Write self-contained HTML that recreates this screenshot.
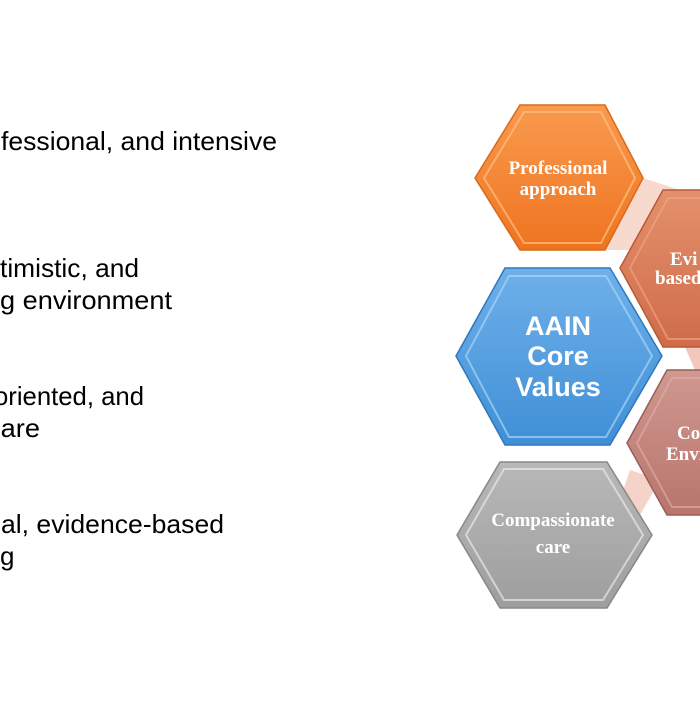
<!DOCTYPE html>
<html><head><meta charset="utf-8"><style>
html,body{margin:0;padding:0;background:#fff;width:700px;height:720px;overflow:hidden}
</style></head><body>
<svg width="700" height="720" viewBox="0 0 700 720" xmlns="http://www.w3.org/2000/svg">
<defs>
<linearGradient id="go" x1="0" y1="0" x2="0" y2="1"><stop offset="0" stop-color="#f99a4f"/><stop offset="1" stop-color="#ef7420"/></linearGradient>
<linearGradient id="gb" x1="0" y1="0" x2="0" y2="1"><stop offset="0" stop-color="#6fb0ea"/><stop offset="1" stop-color="#3f8fd6"/></linearGradient>
<linearGradient id="gg" x1="0" y1="0" x2="0" y2="1"><stop offset="0" stop-color="#b8b8b8"/><stop offset="1" stop-color="#9e9e9e"/></linearGradient>
<linearGradient id="ge" x1="0" y1="0" x2="0" y2="1"><stop offset="0" stop-color="#e4906c"/><stop offset="1" stop-color="#cf6c4a"/></linearGradient>
<linearGradient id="gr" x1="0" y1="0" x2="0" y2="1"><stop offset="0" stop-color="#cf9890"/><stop offset="1" stop-color="#b8756c"/></linearGradient>
</defs>
<g font-family="Liberation Sans, Arial, sans-serif" font-size="26" fill="#000">
<text x="1" y="150" textLength="276" lengthAdjust="spacingAndGlyphs">fessional, and intensive</text>
<text x="0" y="277" textLength="139" lengthAdjust="spacingAndGlyphs">timistic, and</text>
<text x="0" y="309" textLength="172" lengthAdjust="spacingAndGlyphs">g environment</text>
<text x="-6" y="405" textLength="150" lengthAdjust="spacingAndGlyphs">oriented, and</text>
<text x="-13" y="437" textLength="53" lengthAdjust="spacingAndGlyphs">care</text>
<text x="1" y="533" textLength="223" lengthAdjust="spacingAndGlyphs">al, evidence-based</text>
<text x="0" y="565">g</text>
</g>
<polygon points="605,250 643,178 680,190 645,250" fill="#f6cfc0" opacity="0.8"/>
<polygon points="685,347 700,347 700,370 695,370" fill="#f1c6bd"/>
<polygon points="608,535 630,470 660,480 640,515" fill="#f3cbbf" opacity="0.85"/>
<polygon points="663,190 740,190 780,268 740,347 663,347 620,268" fill="url(#ge)" stroke="#b65a3a" stroke-width="1.5"/>
<polygon points="668,198 740,198 772,268 740,339 668,339 630,268" fill="none" stroke="#f0a888" stroke-width="2" opacity="0.6"/>
<polygon points="667,370 740,370 780,443 740,515 667,515 627,443" fill="url(#gr)" stroke="#9a5e58" stroke-width="1.5"/>
<polygon points="672,378 740,378 772,443 740,507 672,507 637,443" fill="none" stroke="#e0b0a8" stroke-width="2" opacity="0.6"/>
<polygon points="520,105 605,105 643,178 605,250 520,250 475,178" fill="url(#go)" stroke="#d86a1a" stroke-width="1.5"/>
<polygon points="524,112 601,112 635,178 601,243 524,243 484,178" fill="none" stroke="#ffc080" stroke-width="2" opacity="0.7"/>
<polygon points="505,268 610,268 662,356 610,445 505,445 456,356" fill="url(#gb)" stroke="#2f78be" stroke-width="1.5"/>
<polygon points="509,276 606,276 652,356 606,437 509,437 466,356" fill="none" stroke="#a8d4f8" stroke-width="2" opacity="0.7"/>
<polygon points="500,462 607,462 652,535 607,608 500,608 457,535" fill="url(#gg)" stroke="#888" stroke-width="1.5"/>
<polygon points="504,469 603,469 643,535 603,600 504,600 466,535" fill="none" stroke="#e8e8e8" stroke-width="2" opacity="0.7"/>
<g font-family="Liberation Serif, Times New Roman, serif" font-weight="bold" font-size="19" fill="#fff" text-anchor="middle">
<text x="558" y="174">Professional</text>
<text x="558" y="195">approach</text>
<text x="553" y="526">Compassionate</text>
<text x="553" y="553">care</text>
<text x="670" y="265" text-anchor="start">Evi</text>
<text x="655" y="284" text-anchor="start">based</text>
<text x="677" y="439" text-anchor="start">Co</text>
<text x="666" y="460" text-anchor="start">Envi</text>
</g>
<g font-family="Liberation Sans, Arial, sans-serif" font-weight="bold" font-size="27" fill="#fff" text-anchor="middle">
<text x="558" y="335">AAIN</text>
<text x="558" y="365">Core</text>
<text x="558" y="396">Values</text>
</g>
</svg>
</body></html>
